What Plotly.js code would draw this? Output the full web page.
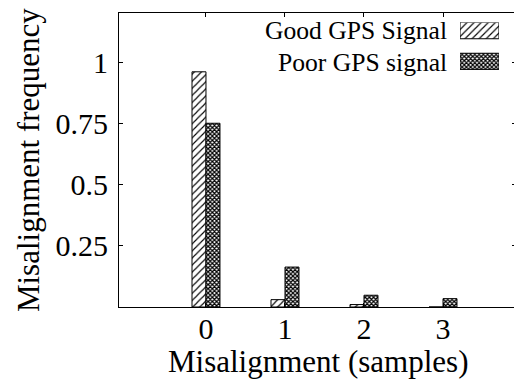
<!DOCTYPE html>
<html>
<head>
<meta charset="utf-8">
<script src="https://cdn.plot.ly/plotly-3.0.1.min.js"></script>
<style>
html,body{margin:0;padding:0;background:#fff;overflow:hidden;}
#chart{width:516px;height:379px;}
</style>
</head>
<body>
<div id="chart"></div>
<script>
// Data
var categories = [0, 1, 2, 3];
var goodSignal = [0.96, 0.03, 0.01, 0.0];
var poorSignal = [0.75, 0.163, 0.048, 0.034];
var seriesNames = ["Good GPS Signal", "Poor GPS signal"];
var yTickVals = [0.25, 0.5, 0.75, 1];
var yTickText = ["0.25", "0.5", "0.75", "1"];
var xTickText = ["0", "1", "2", "3"];
var xTitle = "Misalignment (samples)";
var yTitle = "Misalignment frequency";

var FONT = "Liberation Serif";
var barW = 0.177;

var goodPattern = {shape: "/", fgcolor: "#000", bgcolor: "#fff", size: 5, solidity: 0.22};
var poorPattern = {shape: "x", fgcolor: "#000", bgcolor: "#fff", size: 3, solidity: 0.65};

var traces = [
  {type: "bar", x: categories, y: goodSignal, name: seriesNames[0], width: barW, offset: -barW,
   marker: {color: "#fff", pattern: goodPattern, line: {color: "#000", width: 1}}, showlegend: false, xaxis: "x", yaxis: "y"},
  {type: "bar", x: categories, y: poorSignal, name: seriesNames[1], width: barW, offset: 0,
   marker: {color: "#fff", pattern: poorPattern, line: {color: "#000", width: 1}}, showlegend: false, xaxis: "x", yaxis: "y"},
  // legend keys (inset subplot)
  {type: "bar", orientation: "h", x: [1], y: [1], width: 0.53, offset: -0.265, base: 0,
   marker: {color: "#fff", pattern: goodPattern, line: {color: "#000", width: 1}}, showlegend: false, hoverinfo: "skip", xaxis: "x2", yaxis: "y2"},
  {type: "bar", orientation: "h", x: [1], y: [0], width: 0.53, offset: -0.265, base: 0,
   marker: {color: "#fff", pattern: poorPattern, line: {color: "#000", width: 1}}, showlegend: false, hoverinfo: "skip", xaxis: "x2", yaxis: "y2"}
];

var layout = {
  width: 516, height: 379,
  margin: {l: 119, r: 0, t: 13, b: 72, pad: 0},
  paper_bgcolor: "#fff", plot_bgcolor: "#fff",
  font: {family: FONT, color: "#000", size: 30},
  showlegend: false,
  xaxis: {
    range: [-1.101, 3.924], tickvals: categories, ticktext: xTickText,
    ticks: "inside", ticklen: 4, tickcolor: "#000", tickwidth: 1,
    showline: true, linecolor: "#000", linewidth: 1, mirror: "ticks",
    showgrid: false, zeroline: false, ticklabelstandoff: -5,
    tickfont: {family: FONT, size: 30, color: "#000"}
  },
  yaxis: {
    range: [0, 1.2], tickvals: yTickVals, ticktext: yTickText,
    ticks: "inside", ticklen: 4, tickcolor: "#000", tickwidth: 1,
    showline: true, linecolor: "#000", linewidth: 1, mirror: "ticks",
    showgrid: false, zeroline: false, ticklabelstandoff: 4,
    tickfont: {family: FONT, size: 30, color: "#000"}
  },
  xaxis2: {domain: [0.859, 0.957], range: [0, 1], visible: false, anchor: "y2", fixedrange: true},
  yaxis2: {domain: [0.806, 0.9677], range: [-0.279, 1.262], visible: false, anchor: "x2", fixedrange: true},
  annotations: [
    {xref: "paper", yref: "paper", x: 0.831, y: 0.939, xanchor: "right", yanchor: "middle",
     text: seriesNames[0], showarrow: false, font: {family: FONT, size: 25.6, color: "#000"}},
    {xref: "paper", yref: "paper", x: 0.831, y: 0.833, xanchor: "right", yanchor: "middle",
     text: seriesNames[1], showarrow: false, font: {family: FONT, size: 25.6, color: "#000"}},
    {xref: "paper", yref: "paper", x: 0.5, y: -0.187, xanchor: "center", yanchor: "middle",
     text: xTitle, showarrow: false, font: {family: FONT, size: 31, color: "#000"}},
    {xref: "paper", yref: "paper", x: -0.229, y: 0.5, xanchor: "center", yanchor: "middle", textangle: -90,
     text: yTitle, showarrow: false, font: {family: FONT, size: 31, color: "#000"}}
  ]
};

Plotly.newPlot("chart", traces, layout, {staticPlot: true, displayModeBar: false});
</script>
</body>
</html>
